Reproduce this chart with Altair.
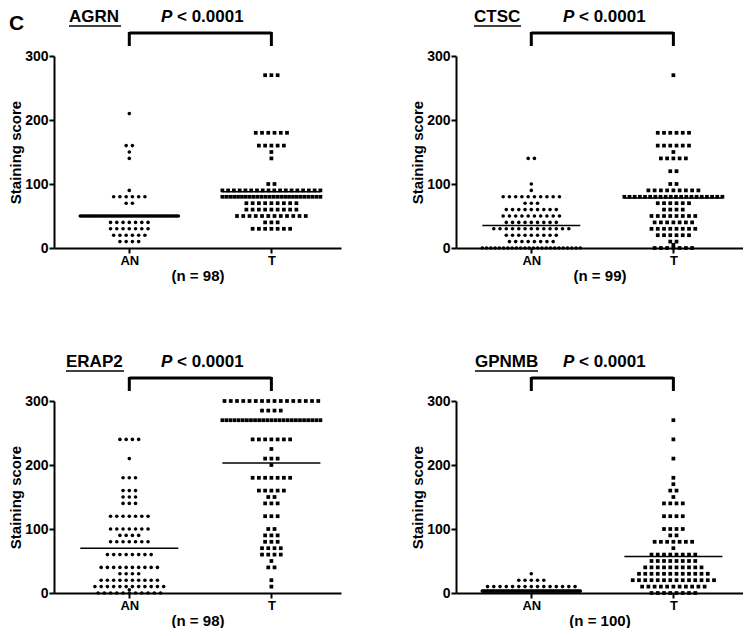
import altair as alt
import pandas as pd

FONT = "Liberation Sans, Arial, sans-serif"

GENES = ["AGRN", "CTSC", "ERAP2", "GPNMB"]
N_LABELS = ["(n = 98)", "(n = 99)", "(n = 98)", "(n = 100)"]
GROUPS = ["AN", "T"]
P_TEXT = "< 0.0001"

# ---- values (score -> number of samples) ----
AGRN_AN_VALUES = [210, 160, 150, 140, 90, 80, 70, 50, 40, 30, 20, 10]
AGRN_AN_COUNTS = [1, 2, 1, 1, 1, 6, 2, 60, 7, 7, 6, 4]
AGRN_T_VALUES = [270, 180, 160, 150, 140, 100, 90, 80, 70, 60, 50, 40, 30]
AGRN_T_COUNTS = [3, 6, 5, 1, 1, 2, 18, 26, 9, 9, 12, 3, 7]

CTSC_AN_VALUES = [140, 100, 90, 80, 70, 60, 50, 40, 30, 20, 10, 0]
CTSC_AN_COUNTS = [2, 1, 1, 10, 3, 9, 10, 9, 13, 9, 8, 24]
CTSC_T_VALUES = [270, 180, 160, 150, 140, 120, 100, 90, 80, 70, 60, 50, 40, 30, 20, 10, 5, 0]
CTSC_T_COUNTS = [1, 6, 6, 1, 5, 2, 2, 9, 20, 6, 4, 8, 7, 8, 6, 2, 1, 7]

ERAP2_AN_VALUES = [240, 210, 180, 160, 150, 140, 120, 100, 90, 80, 60, 40, 30, 20, 10, 5, 0]
ERAP2_AN_COUNTS = [4, 1, 3, 3, 3, 3, 7, 7, 4, 7, 8, 10, 4, 10, 12, 1, 11]
ERAP2_T_VALUES = [300, 285, 270, 240, 225, 210, 200, 180, 160, 150, 140, 120, 100, 90, 80, 70, 60, 50, 40, 20, 10]
ERAP2_T_COUNTS = [16, 4, 25, 7, 1, 3, 1, 7, 5, 2, 3, 3, 2, 3, 3, 4, 4, 1, 2, 1, 1]

GPNMB_AN_VALUES = [30, 20, 10, 3]
GPNMB_AN_COUNTS = [1, 5, 15, 79]
GPNMB_T_VALUES = [270, 240, 210, 180, 170, 160, 150, 140, 120, 100, 90, 80, 70, 60, 50, 40, 30, 20, 10, 0]
GPNMB_T_COUNTS = [1, 1, 1, 1, 1, 2, 1, 4, 4, 4, 2, 7, 1, 8, 8, 10, 12, 14, 11, 8]

# medians (horizontal lines), AN then T
AGRN_MEDIANS = [50, 88]
CTSC_MEDIANS = [35, 78]
ERAP2_MEDIANS = [70, 203]
GPNMB_MEDIANS = [3, 57]

SERIES = {
    "AGRN": [(AGRN_AN_VALUES, AGRN_AN_COUNTS), (AGRN_T_VALUES, AGRN_T_COUNTS)],
    "CTSC": [(CTSC_AN_VALUES, CTSC_AN_COUNTS), (CTSC_T_VALUES, CTSC_T_COUNTS)],
    "ERAP2": [(ERAP2_AN_VALUES, ERAP2_AN_COUNTS), (ERAP2_T_VALUES, ERAP2_T_COUNTS)],
    "GPNMB": [(GPNMB_AN_VALUES, GPNMB_AN_COUNTS), (GPNMB_T_VALUES, GPNMB_T_COUNTS)],
}
MEDIANS = {"AGRN": AGRN_MEDIANS, "CTSC": CTSC_MEDIANS, "ERAP2": ERAP2_MEDIANS, "GPNMB": GPNMB_MEDIANS}

rows = []
for gene, groups in SERIES.items():
    for gi, (vals, cnts) in enumerate(groups):
        for v, c in zip(vals, cnts):
            for _ in range(c):
                rows.append({"gene": gene, "group": GROUPS[gi], "gidx": gi + 1, "value": v})
points_df = pd.DataFrame(rows)

med_rows = []
for gene, meds in MEDIANS.items():
    for gi, m in enumerate(meds):
        med_rows.append({"gene": gene, "group": GROUPS[gi], "gidx": gi + 1, "median": m})
med_df = pd.DataFrame(med_rows)

bracket_df = pd.DataFrame({"start": [1], "end": [2]})
legs_df = pd.DataFrame({"pos": [1, 2]})

# ---- layout / style ----
W, H = 287, 192
XDOM = [0.47, 2.49]
UNDERLINE = {"AGRN": (15, 52), "CTSC": (18, 47), "ERAP2": (12, 58), "GPNMB": (19, 63)}

xscale = alt.Scale(domain=XDOM, nice=False, zero=False)
yscale = alt.Scale(domain=[0, 300], nice=False, zero=True)


def panel(i, gene):
    xaxis = alt.Axis(values=[1, 2], labelExpr="datum.value == 1 ? 'AN' : 'T'",
                     title=N_LABELS[i], titleFontSize=15, titlePadding=1,
                     labelPadding=1, tickSize=5, labelFontSize=13, labelAngle=0)
    yaxis = alt.Axis(values=[0, 100, 200, 300], title="Staining score",
                     titleFontSize=15, titlePadding=1, labelPadding=1,
                     tickSize=5, labelFontSize=14)

    base = alt.Chart(points_df).transform_filter(
        alt.datum.gene == gene
    ).transform_window(
        idx="row_number()", groupby=["group", "value"]
    ).transform_joinaggregate(
        n="count()", groupby=["group", "value"]
    ).transform_calculate(
        xpos="datum.gidx + (datum.idx - (datum.n + 1) / 2) * min(0.044, 0.69 / max(datum.n - 1, 1))"
    )

    an = base.transform_filter(alt.datum.group == "AN").mark_circle(
        size=13, color="black", opacity=1
    ).encode(
        x=alt.X("xpos:Q", scale=xscale, axis=xaxis),
        y=alt.Y("value:Q", scale=yscale, axis=yaxis),
    )
    t = base.transform_filter(alt.datum.group == "T").mark_square(
        size=14, color="black", opacity=1
    ).encode(
        x=alt.X("xpos:Q", scale=xscale, axis=xaxis),
        y=alt.Y("value:Q", scale=yscale, axis=yaxis),
    )

    med = alt.Chart(med_df).transform_filter(
        alt.datum.gene == gene
    ).transform_calculate(
        x1="datum.gidx - 0.345", x2="datum.gidx + 0.345"
    ).mark_rule(color="black", strokeWidth=1.5).encode(
        x=alt.X("x1:Q", scale=xscale, axis=xaxis),
        x2="x2:Q",
        y=alt.Y("median:Q", scale=yscale, axis=yaxis),
    )

    br = alt.Chart(bracket_df).mark_rule(color="black", strokeWidth=3).encode(
        x=alt.X("start:Q", scale=xscale, axis=xaxis), x2="end:Q", y=alt.value(-23)
    )
    legs = alt.Chart(legs_df).mark_rule(color="black", strokeWidth=3).encode(
        x=alt.X("pos:Q", scale=xscale, axis=xaxis), y=alt.value(-24), y2=alt.value(-10)
    )

    ux, uw = UNDERLINE[gene]
    gtxt = alt.Chart(pd.DataFrame({"label": [gene]})).mark_text(
        align="left", baseline="middle", font=FONT, fontSize=17, fontWeight="bold", color="black"
    ).encode(x=alt.value(ux), y=alt.value(-39), text="label:N")
    uline = alt.Chart(pd.DataFrame({"label": [gene]})).mark_rule(color="black", strokeWidth=1.5).encode(
        x=alt.value(ux), x2=alt.value(ux + uw), y=alt.value(-30)
    )
    ptxt = alt.Chart(pd.DataFrame({"label": ["P"]})).mark_text(
        align="left", baseline="middle", font=FONT, fontSize=17, fontWeight="bold",
        fontStyle="italic", color="black"
    ).encode(x=alt.value(107), y=alt.value(-39), text="label:N")
    ptxt2 = alt.Chart(pd.DataFrame({"label": [P_TEXT]})).mark_text(
        align="left", baseline="middle", font=FONT, fontSize=17, fontWeight="bold", color="black"
    ).encode(x=alt.value(123), y=alt.value(-39), text="label:N")

    layers = [an, t, med, br, legs, gtxt, uline, ptxt, ptxt2]
    if i == 0:
        ctxt = alt.Chart(pd.DataFrame({"label": ["C"]})).mark_text(
            align="left", baseline="middle", font=FONT, fontSize=21, fontWeight="bold", color="black"
        ).encode(x=alt.value(-45), y=alt.value(-32), text="label:N")
        layers.append(ctxt)
    return alt.layer(*layers).properties(width=W, height=H)


panels = [panel(i, g) for i, g in enumerate(GENES)]

chart = alt.concat(
    *panels, columns=2, spacing={"row": 153, "column": 115}, bounds="flush"
).configure_view(stroke=None).configure_axis(
    domainColor="black", domainWidth=2, tickColor="black", tickWidth=2, grid=False,
    labelFont=FONT, labelFontWeight="bold", labelColor="black",
    titleFont=FONT, titleFontWeight="bold", titleColor="black",
).properties(background="white", padding=0)

chart.save("out.html", embed_options={"renderer": "svg", "actions": False})
